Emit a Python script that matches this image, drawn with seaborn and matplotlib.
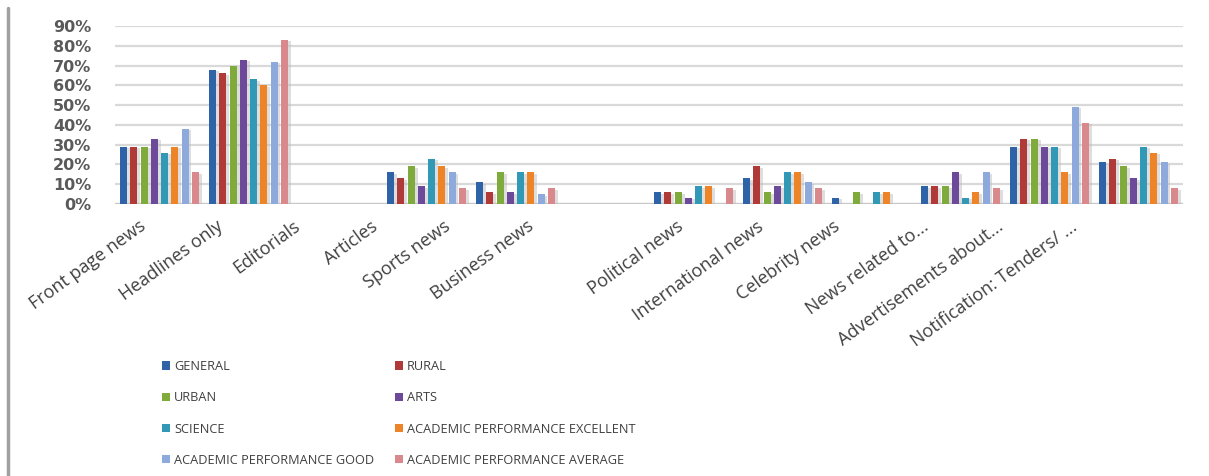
import matplotlib
matplotlib.use("Agg")
import matplotlib.pyplot as plt
import matplotlib.transforms as mtransforms
from matplotlib.patches import Patch
from matplotlib.lines import Line2D
from matplotlib.ticker import PercentFormatter
import matplotlib.patheffects as pe
import pandas as pd
import seaborn as sns

# News items read in the newspaper (x-axis categories)
categories = [
    "Front page news", "Headlines only", "Editorials", "Articles", "Sports news",
    "Business news", "Political news", "International news", "Celebrity news",
    "News related to...", "Advertisements about...", "Notification: Tenders/ ...",
]

# Respondent groups (legend entries, in series order)
groups = [
    "GENERAL", "RURAL", "URBAN", "ARTS", "SCIENCE",
    "ACADEMIC PERFORMANCE EXCELLENT", "ACADEMIC PERFORMANCE GOOD",
    "ACADEMIC PERFORMANCE AVERAGE",
]

# Percentage of respondents per category, one list per group
general   = [29, 68, 0, 16, 11, 0, 6, 13, 3, 9, 29, 21]
rural     = [29, 66, 0, 13, 6, 0, 6, 19, 0, 9, 33, 23]
urban     = [29, 70, 0, 19, 16, 0, 6, 6, 6, 9, 33, 19]
arts      = [33, 73, 0, 9, 6, 0, 3, 9, 0, 16, 29, 13]
science   = [26, 63, 0, 23, 16, 0, 9, 16, 6, 3, 29, 29]
excellent = [29, 60, 0, 19, 16, 0, 9, 16, 6, 6, 16, 26]
good      = [38, 72, 0, 16, 5, 0, 0, 11, 0, 16, 49, 21]
average   = [16, 83, 0, 8, 8, 0, 8, 8, 0, 8, 41, 8]

series = [general, rural, urban, arts, science, excellent, good, average]

colors = ["#2F63A8", "#B03A37", "#7FAA3C", "#6C4A99",
          "#3199B5", "#EE8428", "#8EAADC", "#D9898C"]

rows = []
for grp, vals in zip(groups, series):
    for cat, v in zip(categories, vals):
        rows.append({"category": cat, "group": grp, "share": v / 100.0})
df = pd.DataFrame(rows)

sns.set_theme(style="white")
plt.rcParams["font.family"] = ["DejaVu Sans"]

W, H, DPI = 1209, 476, 100
fig = plt.figure(figsize=(W / DPI, H / DPI), dpi=DPI)
ax = fig.add_axes([115 / W, 1 - 204 / H, (1183 - 115) / W, (204 - 26) / H])

sns.barplot(
    data=df, x="category", y="share", hue="group",
    order=categories, hue_order=groups, palette=colors,
    width=0.92, gap=0.3, saturation=1, errorbar=None,
    legend=False, ax=ax, zorder=3,
)

# soft drop shadow on the bars
for p in ax.patches:
    p.set_linewidth(0)
    p.set_path_effects([
        pe.SimplePatchShadow(offset=(2, -1), shadow_rgbFace="#BFBFBF", alpha=0.5),
        pe.Normal(),
    ])

ax.set_xlim(-0.5, len(categories) - 0.5)
ax.set_ylim(0, 0.9)
ax.set_yticks([i / 10 for i in range(10)])
ax.yaxis.set_major_formatter(PercentFormatter(1.0, decimals=0))
ax.grid(axis="y", color="#D9D9D9", linewidth=1.6, zorder=0)
ax.grid(axis="x", visible=False)
for s in ax.spines.values():
    s.set_visible(False)
ax.axhline(0, color="#C8C8C8", linewidth=1.6, zorder=2)

ax.set_xlabel("")
ax.set_ylabel("")
ax.tick_params(axis="y", length=0, pad=17, labelsize=11.5, labelcolor="#5A5A5A")
for t in ax.get_yticklabels():
    t.set_fontweight("bold")

ax.tick_params(axis="x", length=0, pad=11)
ax.set_xticks(range(len(categories)))
ax.set_xticklabels(categories, rotation=36, ha="right", va="top",
                   rotation_mode="anchor", fontsize=13, color="#404040",
                   family=["Open Sans", "DejaVu Sans"])

# per-label horizontal shift of the rotated category names (pixels)
label_shift = [-21, -33, -45, -56, -72, -78, -17, -26, -39, -39, -53, -68]
for lbl, dx in zip(ax.get_xticklabels(), label_shift):
    lbl.set_transform(lbl.get_transform() +
                      mtransforms.ScaledTranslation(dx / DPI, 2 / DPI, fig.dpi_scale_trans))

# legend: two columns, filled row by row
handles = [Patch(facecolor=c, edgecolor="none") for c in colors]
leg_kw = dict(frameon=False, handlelength=0.6, handleheight=0.6,
              handletextpad=0.35, labelspacing=1.43, borderaxespad=0, borderpad=0,
              labelcolor="#404040",
              prop={"family": ["Open Sans", "DejaVu Sans"], "size": 9.2})
left_idx = [0, 2, 4, 6]
right_idx = [1, 3, 5, 7]
fig.legend([handles[i] for i in left_idx], [groups[i] for i in left_idx],
           loc="upper left", bbox_to_anchor=(162 / W, 1 - 360 / H), **leg_kw)
fig.legend([handles[i] for i in right_idx], [groups[i] for i in right_idx],
           loc="upper left", bbox_to_anchor=(395 / W, 1 - 360 / H), **leg_kw)

# thin frame line on the left edge of the chart
fig.add_artist(Line2D([8 / W, 8 / W], [0, 1 - 8 / H], transform=fig.transFigure,
                      color="#A0A0A0", linewidth=2.5))

fig.savefig("out.png", dpi=DPI, facecolor="white")
